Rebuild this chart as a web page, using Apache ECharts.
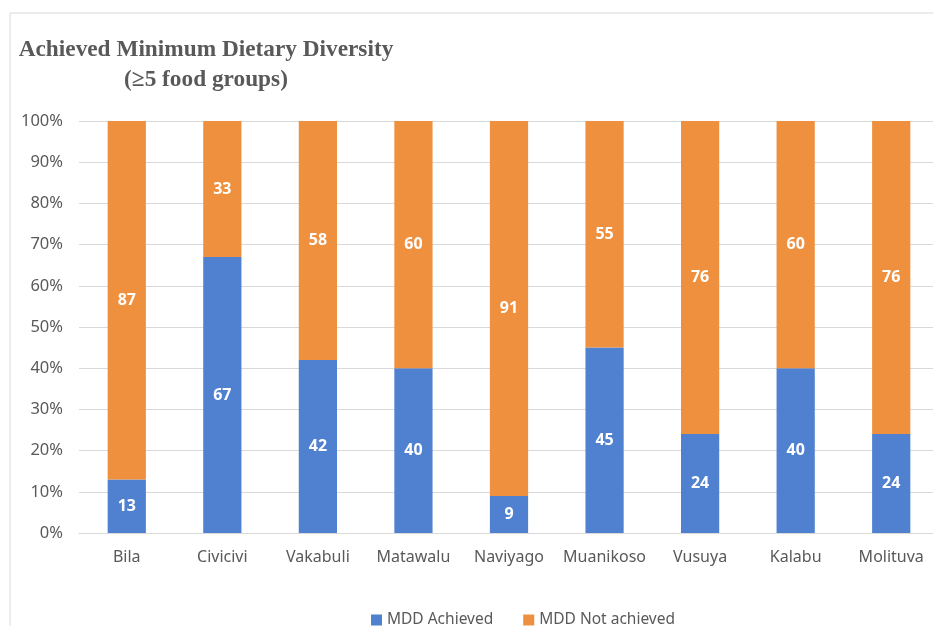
<!DOCTYPE html>
<html><head><meta charset="utf-8">
<script src="https://cdn.jsdelivr.net/npm/echarts@6/dist/echarts.min.js"></script>
<style>html,body{margin:0;padding:0;background:#fff}#c{width:933px;height:626px}</style>
</head><body><div id="c"></div>
<script>
const categories = ['Bila','Civicivi','Vakabuli','Matawalu','Naviyago','Muanikoso','Vusuya','Kalabu','Molituva'];
const achieved = [13,67,42,40,9,45,24,40,24];
const notAchieved = [87,33,58,60,91,55,76,60,76];
const yTicks = [0,10,20,30,40,50,60,70,80,90,100];

const chart = echarts.init(document.getElementById('c'));
const labelStyle = {show:true, position:'inside', color:'#fff', fontWeight:'bold', fontSize:16, fontFamily:'Noto Sans'};
chart.setOption({
  animation:false,
  graphic:[{type:'rect', shape:{x:10,y:13,width:940,height:640}, style:{fill:'none', stroke:'#d9d9d9', lineWidth:1}, silent:true}],
  title:{
    text:'Achieved Minimum Dietary Diversity\n(≥5 food groups)',
    left:201, top:30, textAlign:'center',
    textStyle:{fontFamily:'Liberation Serif', fontWeight:'bold', fontSize:23.3, color:'#595959', lineHeight:30}
  },
  legend:{
    top:607, left:366, itemWidth:11, itemHeight:11, itemGap:30, icon:'rect',
    textStyle:{color:'#595959', fontSize:15.5, fontFamily:'Noto Sans'},
    data:['MDD Achieved','MDD Not achieved']
  },
  grid:{left:79, width:860, top:121, bottom:93, containLabel:false, outerBoundsMode:'none'},
  xAxis:{
    type:'category', data:categories,
    axisTick:{show:false},
    axisLine:{lineStyle:{color:'#d9d9d9'}},
    axisLabel:{color:'#595959', fontSize:16, fontFamily:'Noto Sans', margin:16, interval:0}
  },
  yAxis:{
    type:'value', min:0, max:100, interval:10,
    axisLabel:{color:'#595959', fontSize:16.5, fontFamily:'Noto Sans', formatter:v=>v+'%', margin:16},
    splitLine:{lineStyle:{color:'#d9d9d9'}},
    axisLine:{show:false}, axisTick:{show:false}
  },
  series:[
    {name:'MDD Achieved', type:'bar', stack:'a', data:achieved, barWidth:'40%', itemStyle:{color:'#4f81d0'}, label:labelStyle},
    {name:'MDD Not achieved', type:'bar', stack:'a', data:notAchieved, barWidth:'40%', itemStyle:{color:'#ef903e'}, label:labelStyle}
  ]
});
</script></body></html>
